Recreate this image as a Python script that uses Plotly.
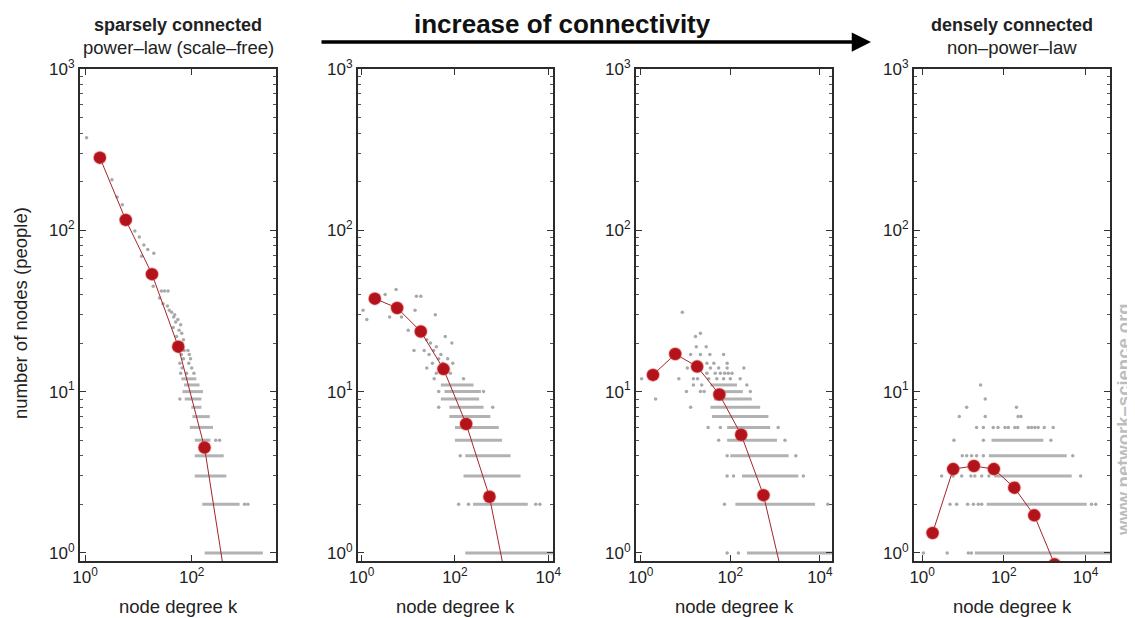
import plotly.graph_objects as go

# ---------------- data ----------------
# red (log-binned averages) per panel: node degree k, number of nodes
P1_RED_K = [1.9, 5.8, 18, 56, 174, 540]
P1_RED_N = [282, 116, 53.5, 19, 4.5, 0.41]
P2_RED_K = [1.93, 5.8, 18.6, 57, 174, 549, 1700]
P2_RED_N = [37.7, 33, 23.6, 13.8, 6.3, 2.23, 0.43]
P3_RED_K = [1.88, 5.9, 18.2, 57, 175, 550, 1700]
P3_RED_N = [12.7, 17.1, 14.3, 9.6, 5.4, 2.28, 0.6]
P4_RED_K = [1.8, 5.75, 18.5, 57, 180, 556, 1750]
P4_RED_N = [1.33, 3.31, 3.46, 3.31, 2.54, 1.71, 0.85]

# dense gray rows (count n, lowest k, highest k)
P1_ROW_N = [1, 2, 3, 4, 5, 6, 7, 8, 9, 10, 11, 12]
P1_ROW_LO = [175, 158, 114, 114, 114, 92, 103, 98, 74, 67, 72, 64]
P1_ROW_HI = [2150, 790, 445, 398, 224, 251, 218, 152, 152, 163, 140, 122]
P2_ROW_N = [1, 2, 3, 4, 5, 6, 7, 8, 9, 10, 11]
P2_ROW_LO = [167, 245, 153, 167, 100, 100, 76, 76, 50, 60, 50]
P2_ROW_HI = [20000, 3630, 2540, 1550, 1020, 870, 575, 410, 330, 360, 250]
P3_ROW_N = [1, 2, 3, 4, 5, 6, 7, 8, 9, 10, 11]
P3_ROW_LO = [235, 130, 182, 100, 85, 85, 39, 36, 43, 46, 36]
P3_ROW_HI = [20000, 7800, 3300, 2000, 1100, 776, 710, 465, 302, 190, 141]
P4_ROW_N = [1, 2, 3, 4, 5]
P4_ROW_LO = [19.5, 38, 58, 43, 50]
P4_ROW_HI = [50000, 10700, 4600, 3470, 930]

# sparse gray dots (k, n)
P1_DOT_K = [1.07, 3.2, 4.0, 5.0, 8.6, 10.4, 12.7, 15, 19.5, 11.5, 19, 27, 31, 36, 25, 35,
            42, 48, 29, 38, 46, 55, 50, 62, 45, 58, 65, 52, 70, 60, 72, 85, 64, 90, 70,
            95, 60, 88, 66, 100, 62, 80, 110, 980, 1130, 282, 333, 60]
P1_DOT_N = [375, 206, 161, 144, 99, 91, 81, 76, 72, 69, 45, 42, 42, 42, 38, 34,
            31, 30, 35, 32, 29, 28, 27, 26, 25, 24, 23, 22, 21, 20, 18, 18, 17, 17, 16,
            16, 15, 15, 14, 14, 13, 13, 13, 2, 2, 5, 5, 9]
P2_DOT_K = [120, 195, 5370, 6600, 130, 45, 645, 45, 410, 36, 153,
            1.08, 3.2, 5.5, 15, 18.6, 38, 4, 7.2, 14, 13.3, 62, 86, 25, 30, 40, 22,
            35, 50, 28, 45, 70, 33, 55, 90, 25, 60, 40, 80, 1.3, 10]
P2_DOT_N = [2, 2, 2, 2, 4, 8, 8, 10, 10, 12, 12,
            32, 40, 43, 39, 39, 30, 29, 29, 32, 18, 22, 20, 21, 20, 19, 18,
            18, 17, 17, 16, 16, 15, 15, 15, 14, 14, 13, 13, 28, 24]
P3_DOT_K = [85, 152, 74, 15000, 85, 118, 4270, 85, 2900, 55, 1660, 32, 60, 1170, 13,
            10.5, 21.5, 26, 280, 15, 23, 234, 1.05, 7.1, 15, 18.6, 33, 50, 71, 100, 166,
            30, 46, 60, 75, 90, 109, 11, 21.5, 36, 55, 85, 200, 30, 43, 85,
            13, 21.5, 35, 71, 17.4, 29, 16.7, 21.5, 8.5, 2.15]
P3_DOT_N = [1, 1, 2, 2, 3, 3, 3, 4, 4, 5, 5, 6, 6, 6, 8,
            10, 10, 10, 10, 11, 11, 11, 12, 12, 12, 12, 12, 12, 12, 12, 12,
            13, 13, 13, 13, 13, 13, 14, 14, 14, 14, 14, 14, 15, 15, 15,
            17, 17, 17, 17, 19, 19, 22, 23, 31, 9]
P4_DOT_K = [1.07, 4.1, 13.5, 16, 4.8, 7, 13, 18, 23.6, 28.7, 14000, 17800,
            3, 5.7, 9.3, 15.6, 19.5, 28.7, 43, 7600, 9.6, 12.3, 16.2, 21.5, 31.5, 4880,
            6, 31.5, 1420, 21.5, 31.5, 55, 72, 107, 129, 186, 219, 398, 479, 575, 692,
            977, 1620, 8.1, 35, 224, 263, 12.3, 204, 35, 27]
P4_DOT_N = [1, 1, 1, 1, 2, 2, 2, 2, 2, 2, 2, 2,
            3, 3, 3, 3, 3, 3, 3, 3, 4, 4, 4, 4, 4, 4,
            5, 5, 5, 6, 6, 6, 6, 6, 6, 6, 6, 6, 6, 6, 6,
            6, 6, 7, 7, 7, 7, 8, 8, 9, 11]

# axis ticks
Y_TICK_VALS = [1, 10, 100, 1000]
Y_TICK_TEXT = ["10<sup>0</sup>", "10<sup>1</sup>", "10<sup>2</sup>", "10<sup>3</sup>"]
Y_MINOR_VALS = [2, 3, 4, 5, 6, 7, 8, 9, 20, 30, 40, 50, 60, 70, 80, 90,
                200, 300, 400, 500, 600, 700, 800, 900]
X_TICK_VALS = [1, 100, 10000]
X_TICK_TEXT = ["10<sup>0</sup>", "10<sup>2</sup>", "10<sup>4</sup>"]

# ---------------- layout geometry ----------------
# the page body adds an 8px margin, so the figure is 8px smaller and all
# target page positions are shifted by that offset
OFF = 8
W, H = 1135 - OFF, 618 - OFF
FONT = "Liberation Sans, Arial, Helvetica, sans-serif"
PANEL_PX = [(80, 276), (358, 553), (636, 832), (914, 1110)]
X_RANGES = [[-0.094, 3.58], [-0.075, 4.1], [-0.105, 4.27], [-0.2, 4.6]]
Y_TOP_PX, Y_BOT_PX = 69, 561


def fx(px):
    return (px - OFF) / W


def fy(py):
    return 1 - (py - OFF) / H


panels = [
    (P1_RED_K, P1_RED_N, P1_ROW_N, P1_ROW_LO, P1_ROW_HI, P1_DOT_K, P1_DOT_N),
    (P2_RED_K, P2_RED_N, P2_ROW_N, P2_ROW_LO, P2_ROW_HI, P2_DOT_K, P2_DOT_N),
    (P3_RED_K, P3_RED_N, P3_ROW_N, P3_ROW_LO, P3_ROW_HI, P3_DOT_K, P3_DOT_N),
    (P4_RED_K, P4_RED_N, P4_ROW_N, P4_ROW_LO, P4_ROW_HI, P4_DOT_K, P4_DOT_N),
]

fig = go.Figure()
layout_axes = {}
for i, (rk, rn, rown, rowlo, rowhi, dk, dn) in enumerate(panels):
    sfx = "" if i == 0 else str(i + 1)
    xa, ya = "x" + sfx, "y" + sfx
    segx, segy = [], []
    for n, lo, hi in zip(rown, rowlo, rowhi):
        segx += [lo, hi, None]
        segy += [n, n, None]
    fig.add_trace(go.Scatter(x=segx, y=segy, mode="lines", xaxis=xa, yaxis=ya,
                             line=dict(color="#b2b2b2", width=3), hoverinfo="skip"))
    fig.add_trace(go.Scatter(x=dk, y=dn, mode="markers", xaxis=xa, yaxis=ya,
                             marker=dict(color="#a9a9a9", size=3.5), hoverinfo="skip"))
    fig.add_trace(go.Scatter(x=rk, y=rn, mode="lines+markers", xaxis=xa, yaxis=ya,
                             line=dict(color="#a3262a", width=1),
                             marker=dict(color="#b3141b", size=12.5,
                                         line=dict(color="rgba(230,90,90,0.35)", width=1.5))))
    x0, x1 = PANEL_PX[i]
    common = dict(showline=True, linecolor="#2b2b2b", linewidth=2, mirror="allticks",
                  ticks="inside", ticklen=6, tickwidth=1.2, tickcolor="#333",
                  showgrid=False, zeroline=False, type="log", tickmode="array",
                  automargin=False,
                  tickfont=dict(family=FONT, size=17, color="#222"))
    layout_axes["xaxis" + sfx] = dict(common, domain=[fx(x0), fx(x1)], range=X_RANGES[i],
                                      tickvals=X_TICK_VALS, ticktext=X_TICK_TEXT, anchor=ya)
    layout_axes["yaxis" + sfx] = dict(common, domain=[fy(Y_BOT_PX), fy(Y_TOP_PX)],
                                      range=[-0.05, 3], tickvals=Y_TICK_VALS,
                                      ticktext=Y_TICK_TEXT, anchor=xa,
                                      minor=dict(ticks="inside", ticklen=3, tickcolor="#555",
                                                 tickmode="array", tickvals=Y_MINOR_VALS,
                                                 showgrid=False))

annotations = []


def ann(text, xpx, ypx, size, bold=False, color="#222", angle=0):
    annotations.append(dict(text=("<b>%s</b>" % text) if bold else text,
                            x=fx(xpx), y=fy(ypx), xref="paper", yref="paper",
                            showarrow=False, xanchor="center", yanchor="middle",
                            textangle=angle,
                            font=dict(family=FONT, size=size, color=color)))


ann("sparsely connected", 178, 25, 18, bold=True)
ann("power–law (scale–free)", 178, 48, 18.5)
ann("densely connected", 1012, 25, 18, bold=True)
ann("non–power–law", 1012, 48, 18.5)
ann("increase of connectivity", 562, 24, 26, bold=True, color="#111")
for x0, x1 in PANEL_PX:
    ann("node degree k", (x0 + x1) / 2, 606, 18.5)
ann("number of nodes (people)", 20, 313, 18.5, angle=-90)
ann("<b>www.network–science.org</b>", 1123, 420, 18.5, color="#bdbdbd", angle=-90)

# arrow
annotations.append(dict(x=fx(871), y=fy(42), xref="paper", yref="paper",
                        ax=-551, ay=0, axref="pixel", ayref="pixel", text="",
                        showarrow=True, arrowhead=2, arrowsize=1.1, arrowwidth=3.5,
                        arrowcolor="#000"))

fig.update_layout(width=W, height=H, margin=dict(l=0, r=0, t=0, b=0, autoexpand=False),
                  paper_bgcolor="white", plot_bgcolor="white", showlegend=False,
                  annotations=annotations, **layout_axes)

fig.write_html("out.html")
